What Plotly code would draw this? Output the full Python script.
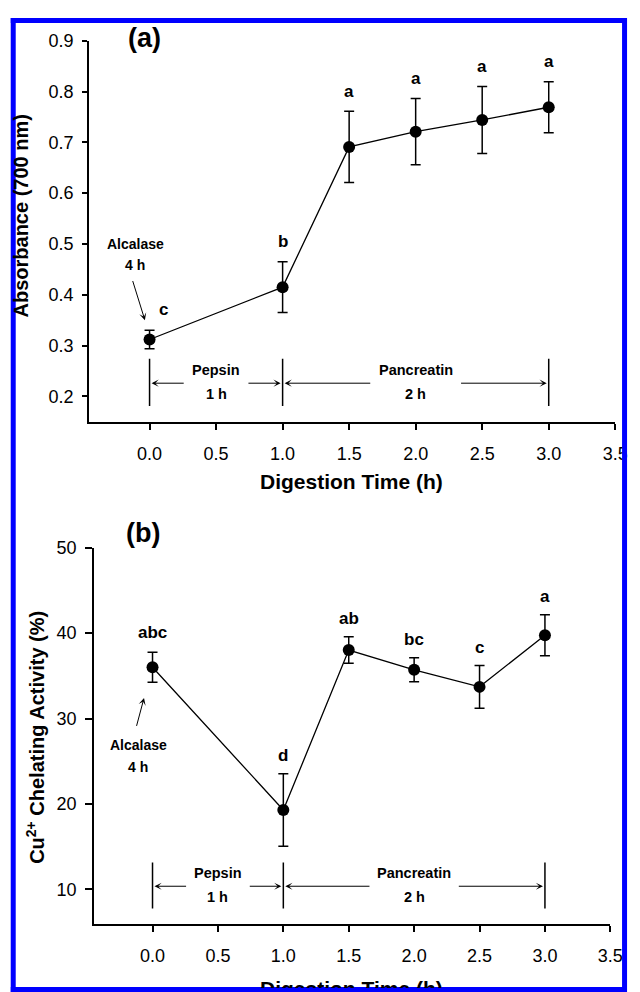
import plotly.graph_objects as go

W, H = 640, 992

# ---------------- data ----------------
time_h = [0.0, 1.0, 1.5, 2.0, 2.5, 3.0]

absorbance = [0.312, 0.415, 0.691, 0.721, 0.744, 0.769]
absorbance_err = [0.018, 0.050, 0.070, 0.065, 0.066, 0.050]
absorbance_letters = ["c", "b", "a", "a", "a", "a"]

chelating = [36.0, 19.3, 38.0, 35.7, 33.7, 39.75]
chelating_err = [1.75, 4.25, 1.55, 1.4, 2.5, 2.4]
chelating_letters = ["abc", "d", "ab", "bc", "c", "a"]

x_ticks = [0.0, 0.5, 1.0, 1.5, 2.0, 2.5, 3.0, 3.5]
x_tick_labels = ["0.0", "0.5", "1.0", "1.5", "2.0", "2.5", "3.0", "3.5"]
abs_ticks = [0.2, 0.3, 0.4, 0.5, 0.6, 0.7, 0.8, 0.9]
abs_tick_labels = ["0.2", "0.3", "0.4", "0.5", "0.6", "0.7", "0.8", "0.9"]
chel_ticks = [10, 20, 30, 40, 50]
chel_tick_labels = ["10", "20", "30", "40", "50"]

stage_bounds = [0.0, 1.0, 3.0]
stage_names = ["Pepsin", "Pancreatin"]
stage_durations = ["1 h", "2 h"]
pretreat_name = "Alcalase"
pretreat_duration = "4 h"

x_title = "Digestion Time (h)"
abs_title = "Absorbance (700 nm)"
chel_title = "Cu<sup>2+</sup> Chelating Activity (%)"

# ---------------- style ----------------
FONT = "Arial, Liberation Sans, sans-serif"
BLUE = "#0000FF"


def px(x):
    return x / W


def py(y):
    return 1 - y / H


fig = go.Figure()

fig.add_trace(go.Scatter(
    x=time_h, y=absorbance, mode="lines+markers",
    line=dict(color="black", width=1.3),
    marker=dict(color="black", size=12),
    error_y=dict(type="data", array=absorbance_err, color="black", thickness=1.5, width=5),
    xaxis="x", yaxis="y", showlegend=False, hoverinfo="skip"))

fig.add_trace(go.Scatter(
    x=time_h, y=chelating, mode="lines+markers",
    line=dict(color="black", width=1.3),
    marker=dict(color="black", size=12),
    error_y=dict(type="data", array=chelating_err, color="black", thickness=1.5, width=5),
    xaxis="x2", yaxis="y2", showlegend=False, hoverinfo="skip"))

common_axis = dict(showline=True, linecolor="black", linewidth=2, showgrid=False,
                   zeroline=False, ticks="outside", tickcolor="black", tickwidth=1.5,
                   tickfont=dict(family=FONT, size=18, color="black"), fixedrange=True)

fig.update_layout(
    autosize=True, margin=dict(l=0, r=0, t=0, b=0),
    paper_bgcolor="white", plot_bgcolor="white",
    xaxis=dict(common_axis, domain=[px(91), px(628)], range=[-0.454, 3.5], anchor="y",
               tickvals=x_ticks, ticktext=x_tick_labels, ticklen=6, ticklabelstandoff=9),
    yaxis=dict(common_axis, domain=[py(416), py(31)], range=[0.15, 0.9], anchor="x",
               tickvals=abs_ticks, ticktext=abs_tick_labels, ticklen=5, ticklabelstandoff=5),
    xaxis2=dict(common_axis, domain=[px(96), px(623)], range=[-0.447, 3.5], anchor="y2",
                tickvals=x_ticks, ticktext=x_tick_labels, ticklen=6, ticklabelstandoff=9),
    yaxis2=dict(common_axis, domain=[py(923), py(543)], range=[6, 50], anchor="x2",
                tickvals=chel_ticks, ticktext=chel_tick_labels, ticklen=7, ticklabelstandoff=5),
)

ann = []


def txt(text, x, y, xref, yref, size, bold=True, **kw):
    d = dict(text=text, x=x, y=y, xref=xref, yref=yref, showarrow=False,
             xanchor="center", yanchor="middle",
             font=dict(family=FONT, size=size, color="black", weight="bold" if bold else "normal"))
    d.update(kw)
    ann.append(d)


panels = [
    dict(xr="x", yr="y", mean=absorbance, err=absorbance_err, letters=absorbance_letters,
         yshift=20, xshift=[14, 0, 0, 0, 0, 0], yshift_extra=[1, 0, 0, 0, 0, 0],
         stage_y=0.226, stage_lo=0.181, stage_hi=0.274,
         pre_text_x=-0.108, pre_text_y=0.5, pre_dur_y=0.459,
         pre_tail=(-0.13, 0.43), pre_head=(-0.035, 0.35)),
    dict(xr="x2", yr="y2", mean=chelating, err=chelating_err, letters=chelating_letters,
         yshift=18, xshift=[0, 0, 0, 0, 0, 0], yshift_extra=[2, 0, 0, 0, 0, 0],
         stage_y=10.38, stage_lo=7.77, stage_hi=13.16,
         pre_text_x=-0.11, pre_text_y=26.9, pre_dur_y=24.3,
         pre_tail=(-0.125, 28.96), pre_head=(-0.065, 32.4)),
]

half_gap = [0.232, 0.33]

shapes = []
for p in panels:
    for t, m, e, L, xs, ye in zip(time_h, p["mean"], p["err"], p["letters"], p["xshift"], p["yshift_extra"]):
        txt(L, t, m + e, p["xr"], p["yr"], 17, yshift=p["yshift"] + ye, xshift=xs)
    for b in stage_bounds:
        shapes.append(dict(type="line", xref=p["xr"], yref=p["yr"], x0=b, x1=b,
                           y0=p["stage_lo"], y1=p["stage_hi"], line=dict(color="black", width=1.5)))
    for i in range(len(stage_names)):
        x0, x1 = stage_bounds[i], stage_bounds[i + 1]
        mid = (x0 + x1) / 2
        g = half_gap[i]
        for head, tail in [(x0 + 0.015, mid - g), (x1 - 0.015, mid + g)]:
            ann.append(dict(x=head, y=p["stage_y"], ax=tail, ay=p["stage_y"], xref=p["xr"], yref=p["yr"],
                            axref=p["xr"], ayref=p["yr"], showarrow=True, arrowhead=3, arrowsize=1.2,
                            arrowwidth=1, arrowcolor="black", text=""))
        txt(stage_names[i], mid, p["stage_y"], p["xr"], p["yr"], 14.5, yshift=13)
        txt(stage_durations[i], mid, p["stage_y"], p["xr"], p["yr"], 14.5, yshift=-11)
    txt(pretreat_name, p["pre_text_x"], p["pre_text_y"], p["xr"], p["yr"], 14)
    txt(pretreat_duration, p["pre_text_x"], p["pre_dur_y"], p["xr"], p["yr"], 14)
    ann.append(dict(x=p["pre_head"][0], y=p["pre_head"][1], ax=p["pre_tail"][0], ay=p["pre_tail"][1],
                    xref=p["xr"], yref=p["yr"], axref=p["xr"], ayref=p["yr"], showarrow=True,
                    arrowhead=3, arrowsize=1.2, arrowwidth=1, arrowcolor="black", text=""))

# panel labels
txt("(a)", px(147), py(28), "paper", "paper", 27)
txt("(b)", px(146), py(528), "paper", "paper", 27)

# axis titles
txt(x_title, px(359), py(476), "paper", "paper", 21)
# bottom title: only its upper part is visible above the frame
txt(x_title, px(359), py(976), "paper", "paper", 21, yanchor="top", valign="top", height=11,
    borderpad=0)
txt(abs_title, px(21), py(208), "paper", "paper", 20, textangle=-90)
txt(chel_title, px(36), py(735), "paper", "paper", 20, textangle=-90)

# blue frame
for (x0, y0, x1, y1) in [(13.5, 8, 13.5, 992), (11, 10.5, 640, 10.5), (637.5, 8, 637.5, 992),
                         (11, 989.5, 640, 989.5)]:
    shapes.append(dict(type="line", xref="paper", yref="paper", x0=px(x0), x1=px(x1),
                       y0=py(y0), y1=py(y1), line=dict(color=BLUE, width=5), layer="above"))

fig.update_layout(annotations=ann, shapes=shapes)

fig.write_html(
    "out.html",
    config={"displayModeBar": False, "responsive": True},
    default_width="100vw",
    default_height="100vh",
    post_script=("var gd=document.getElementById('{plot_id}');"
                 "gd.style.position='fixed';gd.style.top='0px';gd.style.left='0px';"
                 "document.documentElement.style.overflow='hidden';"
                 "document.body.style.margin='0';"
                 "document.body.style.overflow='hidden';"),
)
